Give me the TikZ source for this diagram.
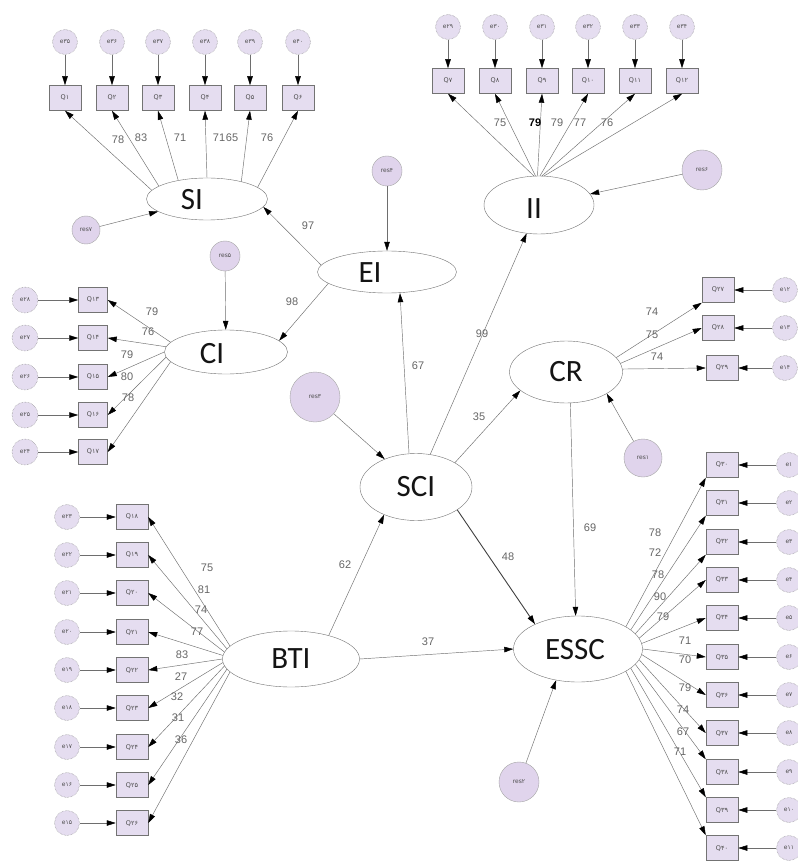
\documentclass[tikz,border=0pt]{standalone}
\usepackage{fontspec}
\setmainfont{Liberation Sans}
\newfontfamily\latfont{Carlito}
\newfontfamily\smfont{DejaVu Sans}
\usetikzlibrary{shapes.geometric,arrows.meta}
\definecolor{lav}{RGB}{229,221,240}
\definecolor{lavres}{RGB}{224,212,236}
\definecolor{lnc}{RGB}{110,110,110}
\begin{document}
\begin{tikzpicture}[x=1pt,y=-1pt,
 lat/.style={ellipse,draw=black!55,line width=0.4pt,fill=white,inner sep=0pt,font=\latfont\fontsize{31}{31}\selectfont,text=black!92},
 latfnt/.style={font=\latfont\fontsize{31}{31}\selectfont,text=black!92,inner sep=0pt},
 obs/.style={rectangle,draw=black!55,line width=0.5pt,fill=lav,minimum width=32pt,minimum height=25pt,inner sep=0pt,font=\smfont\fontsize{6.5}{6.5}\selectfont,text=black!70},
 errc/.style={circle,draw=black!45,densely dotted,line width=0.5pt,fill=lav,minimum size=25pt,inner sep=0pt,font=\smfont\fontsize{6}{6}\selectfont,text=black!70},
 resc/.style={circle,draw=black!35,line width=0.4pt,fill=lavres,inner sep=0pt,font=\smfont\fontsize{6}{6}\selectfont,text=black!70},
 arr/.style={draw=lnc,line width=0.45pt,-{Triangle[length=9pt,width=5.5pt,color=black]}},
 wt/.style={font=\fontsize{11}{11}\selectfont,text=black!60,inner sep=0pt}
]
\fill[white] (0,0) rectangle (797,866);
\useasboundingbox (0,0) rectangle (797,866);

% latent variables
\node[lat,minimum width=121pt,minimum height=42pt] (SI) at (207,199) {};
\node[latfnt] (SIt) at (192,200) {SI};
\node[lat,minimum width=139pt,minimum height=42pt] (EI) at (387,272) {};
\node[latfnt] (EIt) at (370,273) {EI};
\node[lat,minimum width=123pt,minimum height=44pt] (CI) at (226,352) {};
\node[latfnt] (CIt) at (212,354) {CI};
\node[lat,minimum width=110pt,minimum height=58pt] (II) at (539,205) {};
\node[latfnt] (IIt) at (534,209) {II};
\node[lat,minimum width=113pt,minimum height=62pt] (CR) at (566,372) {CR};
\node[lat,minimum width=112pt,minimum height=67pt] (SCI) at (416,487) {SCI};
\node[lat,minimum width=137pt,minimum height=56pt] (BTI) at (291,659) {BTI};
\node[lat,minimum width=129pt,minimum height=66pt] (ESSC) at (578,649) {};
\node[latfnt] (ESSCt) at (575,650) {ESSC};

% residuals
\node[resc,minimum size=28pt] (res7) at (86,230) {res۷};
\node[resc,minimum size=30pt] (res4) at (387,171) {res۴};
\node[resc,minimum size=30pt] (res5) at (225,256) {res۵};
\node[resc,minimum size=40pt] (res6) at (702,170) {res۶};
\node[resc,minimum size=50pt] (res3) at (315,397) {res۳};
\node[resc,minimum size=38pt] (res1) at (643,458) {res۱};
\node[resc,minimum size=40pt] (res2) at (519,782) {res۲};

% SI indicators
\foreach \x/\q/\e/\a [count=\i] in {65/Q۱/e۳۵/171,112/Q۲/e۳۶/165,158/Q۳/e۳۷/147,205/Q۴/e۳۸/90,250/Q۵/e۳۹/27,298/Q۶/e۴۰/13}{
 \node[obs] (siq\i) at (\x,98) {\q};
 \node[errc] (sie\i) at (\x,42) {\e};
 \draw[arr] (sie\i) -- (siq\i);
 \draw[arr] (SI.\a) -- (siq\i.south);
}
% II indicators
\foreach \x/\q/\e/\a [count=\i] in {448/Q۷/e۲۹/100,495/Q۸/e۳۰/97,542/Q۹/e۳۱/93,588/Q۱۰/e۳۲/88,635/Q۱۱/e۳۳/84,682/Q۱۲/e۳۴/80}{
 \node[obs] (iiq\i) at (\x,81) {\q};
 \node[errc] (iie\i) at (\x,27) {\e};
 \draw[arr] (iie\i) -- (iiq\i);
 \draw[arr] (II.\a) -- (iiq\i.south);
}
% CI indicators
\foreach \y/\q/\e/\a [count=\i] in {300/Q۱۳/e۲۸/170,338/Q۱۴/e۲۷/175,377/Q۱۵/e۲۶/180,415/Q۱۶/e۲۵/185,452/Q۱۷/e۲۴/190}{
 \node[obs,minimum width=29pt] (ciq\i) at (93,\y) {\q};
 \node[errc,minimum size=26pt] (cie\i) at (25,\y) {\e};
 \draw[arr] (cie\i) -- (ciq\i);
 \draw[arr] (CI.\a) -- (ciq\i.east);
}
% BTI indicators
\foreach \y/\q/\e/\a [count=\i] in {517/Q۱۸/e۲۳/168,555/Q۱۹/e۲۲/171,593/Q۲۰/e۲۱/174,632/Q۲۱/e۲۰/177,670/Q۲۲/e۱۹/180,708/Q۲۳/e۱۸/183,747/Q۲۴/e۱۷/186,785/Q۲۵/e۱۶/189,823/Q۲۶/e۱۵/192}{
 \node[obs] (btq\i) at (132,\y) {\q};
 \node[errc] (bte\i) at (67,\y) {\e};
 \draw[arr] (bte\i) -- (btq\i);
 \draw[arr] (BTI.\a) -- (btq\i.east);
}
% CR indicators
\foreach \y/\x/\q/\e/\a/\t [count=\i] in {290/718/Q۲۷/e۱۲/16/south west,328/718/Q۲۸/e۱۳/9/west,368/722/Q۲۹/e۱۴/3/west}{
 \node[obs] (crq\i) at (\x,\y) {\q};
 \node[errc] (cre\i) at (785,\y) {\e};
 \draw[arr] (cre\i) -- (crq\i);
 \draw[arr] (CR.\a) -- (crq\i.\t);
}
% ESSC indicators
\foreach \y/\q/\e/\a/\t [count=\i] in {465/Q۳۰/e۱/25/south west,503/Q۳۱/e۲/20/south west,542/Q۳۲/e۳/15/south west,580/Q۳۳/e۴/10/west,618/Q۳۴/e۵/5/west,657/Q۳۵/e۶/0/west,695/Q۳۶/e۷/-5/west,733/Q۳۷/e۸/-10/west,772/Q۳۸/e۹/-15/north west,810/Q۳۹/e۱۰/-20/north west,848/Q۴۰/e۱۱/-25/north west}{
 \node[obs] (esq\i) at (722,\y) {\q};
 \node[errc] (ese\i) at (789,\y) {\e};
 \draw[arr] (ese\i) -- (esq\i);
 \draw[arr] (ESSC.\a) -- (esq\i.\t);
}

% structural paths
\draw[arr] (res7) -- (SI);
\draw[arr] (res4) -- (EI);
\draw[arr] (res5) -- (CI);
\draw[arr] (res6) -- (II);
\draw[arr] (res3) -- (SCI);
\draw[arr] (res1) -- (CR.-28);
\draw[arr] (res2) -- (ESSC.-125);
\draw[arr] (EI.174) -- (SI.-8);
\draw[arr] (EI.191) -- (CI.12);
\draw[arr] ([xshift=-7pt]SCI.north) -- ([xshift=13pt]EI.south);
\draw[arr] (SCI) -- (II);
\draw[arr] (SCI.32) -- (CR.202);
\draw[arr,line width=0.9pt,draw=black!75] (SCI.-29) -- (ESSC.150);
\draw[arr] (BTI.32) -- (SCI.221);
\draw[arr] (BTI.east) -- (ESSC.west);
\draw[arr] (CR.-82) -- (ESSC.94);

% weights
\foreach \x/\y/\t [count=\i] in {118/140/78,141/138/83,180/138/71,219/138/71,232/138/65,267/138/76,
 500/123/75,557/123/79,580/123/77,607/123/76,
 152/312/79,148/332/76,127/355/79,127/377/80,128/398/78,
 652/312/74,652/335/75,657/357/74,
 655/533/78,655/553/72,658/575/78,660/597/90,663/617/79,685/641/71,685/660/70,685/688/79,683/710/74,683/732/67,680/752/71,
 207/568/75,204/590/81,201/610/74,197/632/77,182/655/83,181/677/27,177/697/32,178/718/31,181/740/36,
 308/226/97,292/302/98,418/366/67,482/334/99,479/417/35,345/565/62,508/557/48,428/642/37,590/528/69}{
 \node[wt] (w\i) at (\x,\y) {\t};
}
\node[wt,font=\fontsize{11}{11}\selectfont\bfseries,text=black] (wb) at (535,123) {79};
\end{tikzpicture}
\end{document}
